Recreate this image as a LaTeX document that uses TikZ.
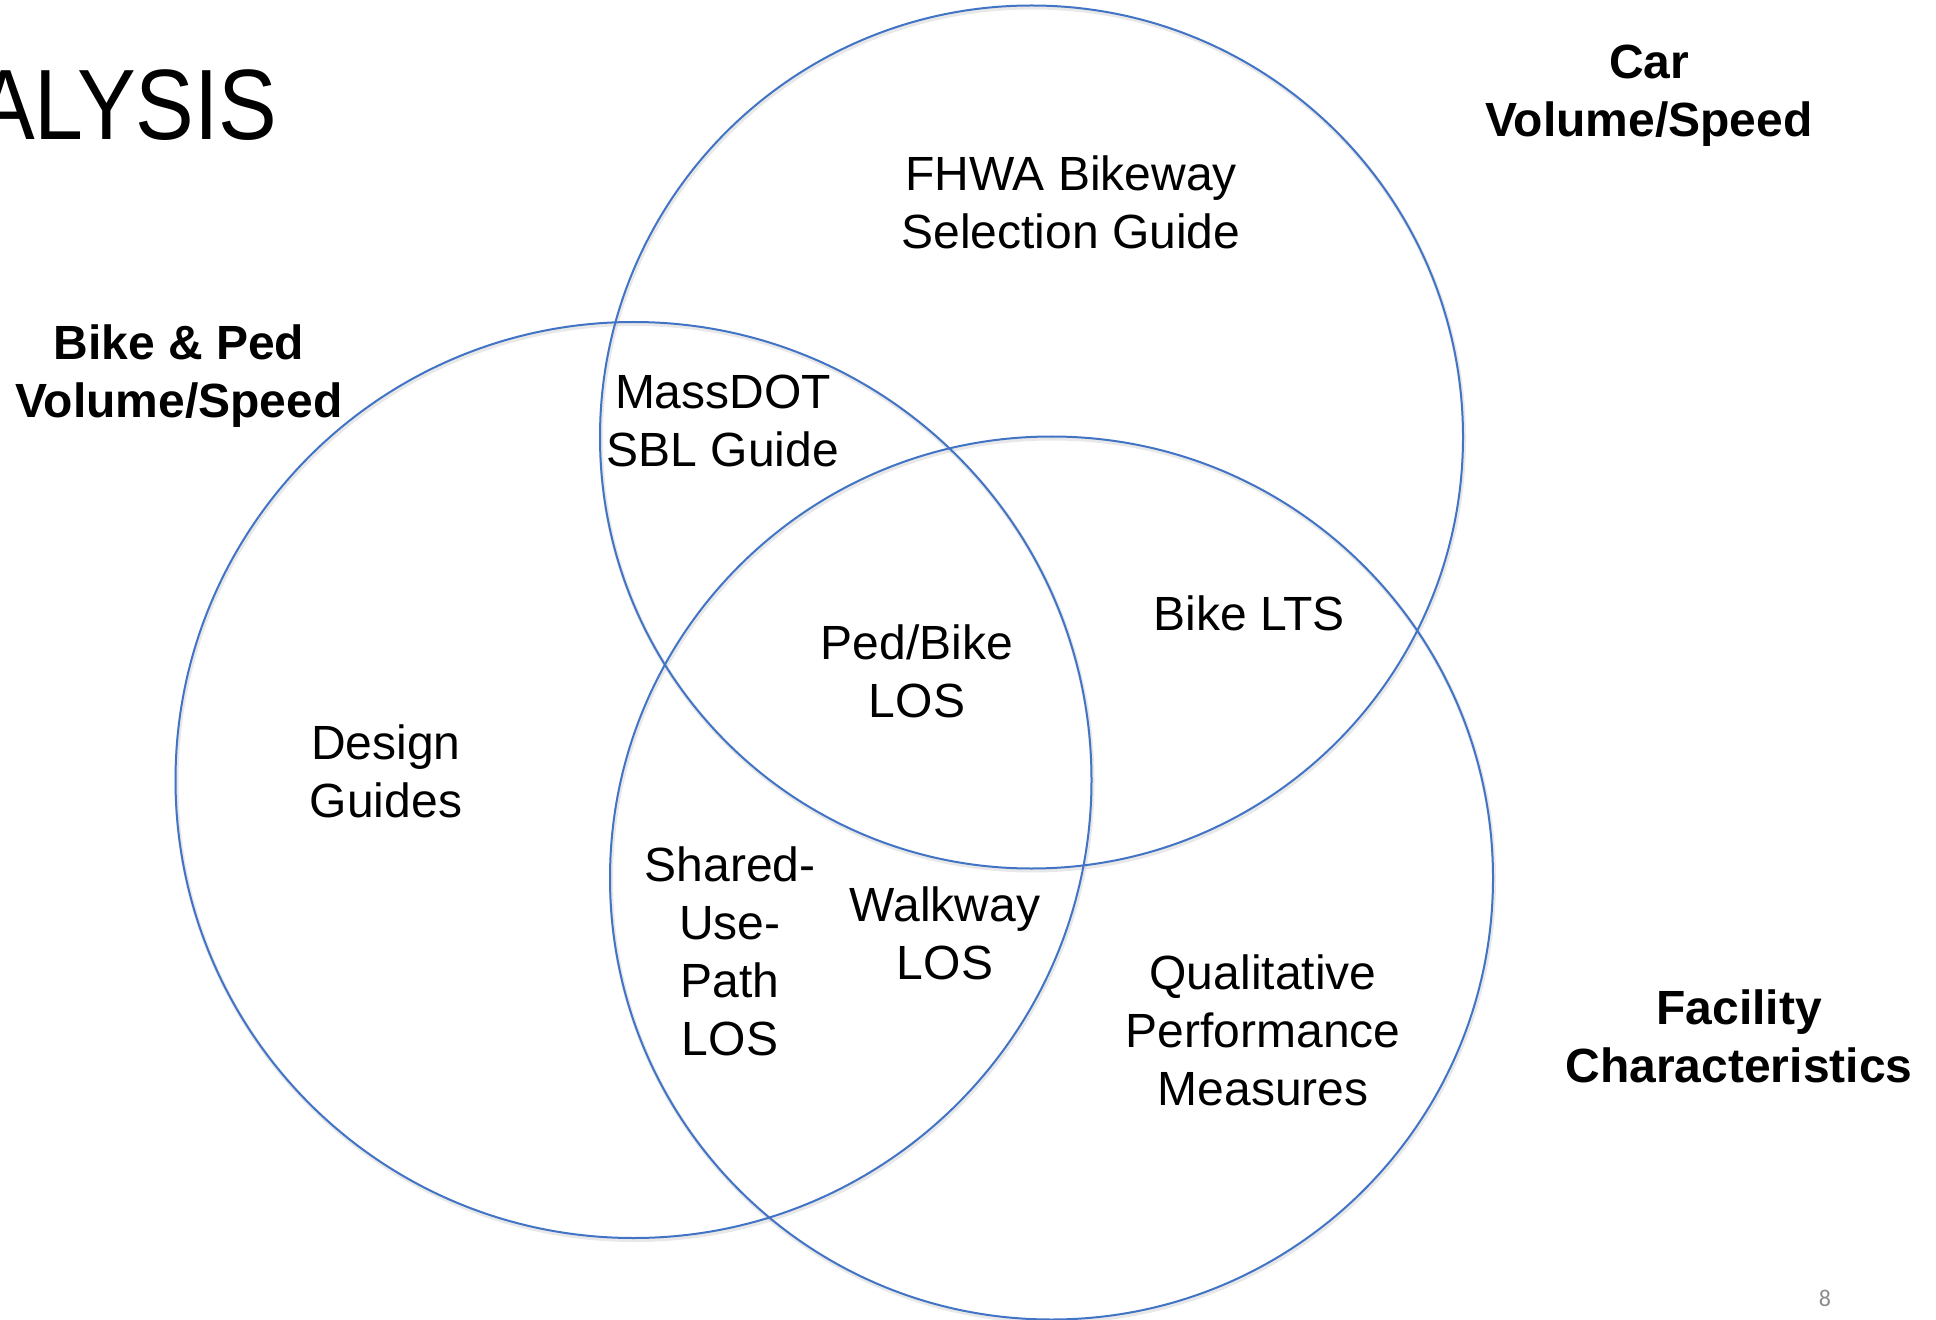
\documentclass[tikz,border=0pt]{standalone}
\usepackage{fontspec}
\setmainfont{Liberation Sans}
\newfontfamily\pagenumfont{Carlito}
\definecolor{vennblue}{RGB}{66,116,198}
\definecolor{pagegray}{RGB}{140,140,140}
\begin{document}
\begin{tikzpicture}[x=0.5pt,y=-0.5pt,
  vennline/.style={draw=vennblue,line width=1pt},
  vennshadow/.style={draw=black!18,line width=2pt,opacity=0.5},
  region/.style={inner sep=0pt,align=center,font=\fontsize{24}{29}\selectfont},
  setlabel/.style={inner sep=0pt,align=center,font=\fontsize{24}{29}\selectfont\bfseries},
]
\useasboundingbox (0,0) rectangle (1936,1320);
% coordinates of circle centres
\coordinate (carc) at (1031.5,437);
\coordinate (bikec) at (633.5,780);
\coordinate (facc) at (1051.5,878);
% faint shadows
\draw[vennshadow] ([shift={(1,2)}]carc) circle (215.75pt);
\draw[vennshadow] ([shift={(1,2)}]bikec) circle (229pt);
\draw[vennshadow] ([shift={(1,2)}]facc) circle (220.75pt);
% circles
\draw[vennline] (carc) circle (215.75pt);
\draw[vennline] (bikec) circle (229pt);
\draw[vennline] (facc) circle (220.75pt);
% title fragment
\node[inner sep=0pt,anchor=base east,font=\fontsize{50}{60}\selectfont,xscale=0.88,transform shape] (title) at (278,140) {ALYSIS};
% set labels
\node[setlabel] (carlbl) at (1649,96) {Car\\Volume/Speed};
\node[setlabel] (bikelbl) at (179,376) {Bike \& Ped\\Volume/Speed};
\node[setlabel] (faclbl) at (1739,1036) {Facility\\Characteristics};
% region texts
\node[region] (fhwa) at (1071,202) {FHWA Bikeway\\Selection Guide};
\node[region] (massdot) at (723,421) {MassDOT\\SBL Guide};
\node[region] (pedbike) at (917,671) {Ped/Bike\\LOS};
\node[region] (lts) at (1249,613) {Bike LTS};
\node[region] (design) at (386,771) {Design\\Guides};
\node[region] (sup) at (730,951) {Shared-\\Use-\\Path\\LOS};
\node[region] (walk) at (945,933) {Walkway\\LOS};
\node[region] (qual) at (1263,1030) {Qualitative\\Performance\\Measures};
% page number
\node[inner sep=0pt,text=pagegray,font=\pagenumfont\fontsize{12}{14}\selectfont] (pnum) at (1825,1298) {8};
\end{tikzpicture}
\end{document}
